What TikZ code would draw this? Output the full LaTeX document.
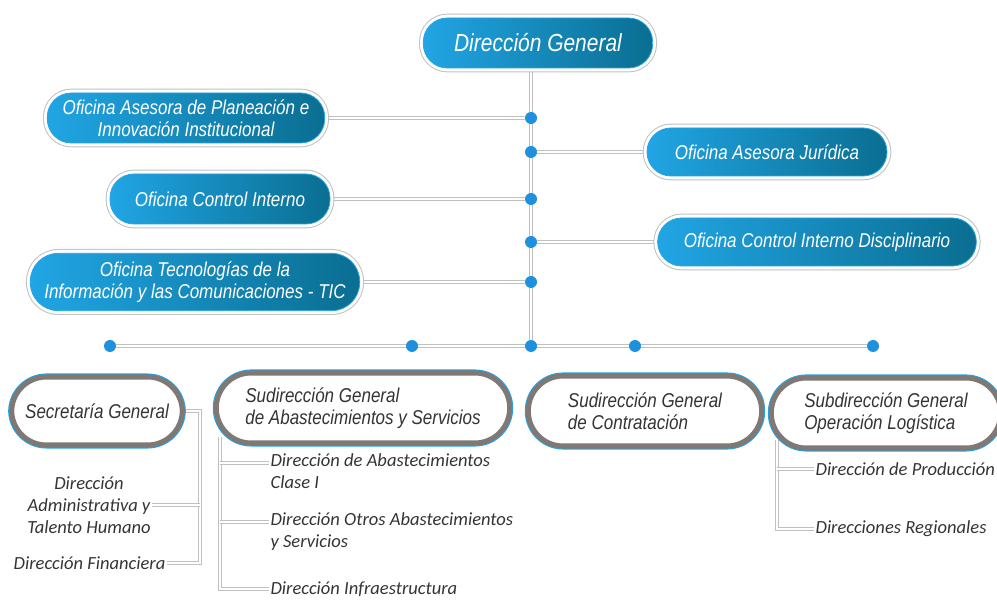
\documentclass[tikz,border=0pt]{standalone}
\usepackage{fontspec}
\setmainfont{Carlito}
\newfontfamily\pillfont[FakeStretch=0.85]{Liberation Sans}
\usetikzlibrary{backgrounds}

\definecolor{pillLight}{RGB}{33,165,228}
\definecolor{pillDark}{RGB}{10,110,145}
\definecolor{dotBlue}{RGB}{30,144,220}
\definecolor{frameGray}{RGB}{128,120,116}
\definecolor{linkGray}{RGB}{192,192,192}
\definecolor{textGray}{RGB}{52,52,52}

\tikzset{
    pillBlue/.style = { shape=rectangle, rounded corners=18pt, left color=pillLight, right color=pillDark, draw=pillLight, line width=0.6pt,
        preaction={draw=linkGray, line width=6.5pt}, preaction={draw=white, line width=5pt},
        text=white, align=center, inner sep=2pt, font=\pillfont\itshape\fontsize{15}{16.5}\selectfont },
    pillWhite/.style = { shape=rectangle, rounded corners=26pt, fill=white, draw=frameGray, line width=3.8pt,
        preaction={draw=pillLight, line width=5.3pt},
        text=textGray, align=left, inner sep=2pt, minimum width=220pt, minimum height=52.5pt, font=\pillfont\itshape\fontsize{15}{16.5}\selectfont },
    dotNode/.style = { shape=circle, fill=dotBlue, inner sep=0pt, minimum size=9pt },
    link/.style = { draw=linkGray, line width=0.8pt, double=white, double distance=1.4pt },
    subLabel/.style = { text=textGray, inner sep=1pt, font=\itshape\fontsize{13.9}{16.5}\selectfont }
}

\begin{document}
\begin{tikzpicture}[x=0.75pt, y=-0.75pt]
    \useasboundingbox (0,0) rectangle (997,602);
    % top
    \node (nDirGeneral) [ pillBlue, minimum width=172pt, minimum height=37.5pt, font=\pillfont\itshape\fontsize{18.5}{20}\selectfont ] at (538,43) {Dirección General};
    % oficinas
    \node (nPlaneacion) [ pillBlue, minimum width=208pt, minimum height=37.5pt ] at (186,118) {Oficina Asesora de Planeación e\\Innovación Institucional};
    \node (nControl) [ pillBlue, minimum width=165pt, minimum height=37.5pt ] at (220,199) {Oficina Control Interno};
    \node (nTic) [ pillBlue, rounded corners=21pt, minimum width=247pt, minimum height=43pt ] at (195,282) {Oficina Tecnologías de la\\Información y las Comunicaciones - TIC};
    \node (nJuridica) [ pillBlue, minimum width=180pt, minimum height=36pt ] at (767,152) {Oficina Asesora Jurídica};
    \node (nDisciplinario) [ pillBlue, minimum width=239pt, minimum height=36pt ] at (817,242) {Oficina Control Interno Disciplinario};
    % bar
    \node (nBar1) [ dotNode ] at (110,346) {};
    \node (nBar2) [ dotNode ] at (412,346) {};
    \node (nBar3) [ dotNode ] at (531,346) {};
    \node (nBar4) [ dotNode ] at (635,346) {};
    \node (nBar5) [ dotNode ] at (873,346) {};
    \node (nDotPlan) [ dotNode ] at (nPlaneacion -| nBar3) {};
    \node (nDotJur) [ dotNode ] at (nJuridica -| nBar3) {};
    \node (nDotCtrl) [ dotNode ] at (nControl -| nBar3) {};
    \node (nDotDisc) [ dotNode ] at (nDisciplinario -| nBar3) {};
    \node (nDotTic) [ dotNode ] at (nTic -| nBar3) {};
    % subdirecciones
    \node (nSecretaria) [ pillWhite, minimum width=128pt, minimum height=51pt ] at (97,411) {Secretaría General};
    \node (nAbast) [ pillWhite ] at (363,408) {Sudirección General\\de Abastecimientos y Servicios};
    \node (nContrat) [ pillWhite, minimum width=175pt ] at (645,411) {Sudirección General\\de Contratación};
    \node (nLogistica) [ pillWhite, minimum width=172pt ] at (886,413) {Subdirección General\\Operación Logística};
    % direcciones
    \node (nAdministrativa) [ subLabel, align=center ] at (89,505) {Dirección\\Administrativa y\\Talento Humano};
    \node (nFinanciera) [ subLabel, anchor=east ] at (167,563) {Dirección Financiera};
    \node (nAbastI) [ subLabel, align=left, anchor=north west ] at (269,452) {Dirección de Abastecimientos\\Clase I};
    \node (nOtros) [ subLabel, align=left, anchor=north west ] at (269,511) {Dirección Otros Abastecimientos\\y Servicios};
    \node (nInfra) [ subLabel, anchor=west ] at (269,589) {Dirección Infraestructura};
    \node (nProduccion) [ subLabel, anchor=west ] at (814,469) {Dirección de Producción};
    \node (nRegionales) [ subLabel, anchor=west ] at (814,529) {Direcciones Regionales};
    \coordinate (cSecBus) at (200,563);
    \coordinate (cAbTop) at (220,437);
    \coordinate (cAbBot) at (220,589);
    \coordinate (cAbastI) at ([yshift=-8pt]nAbastI.north west);
    \coordinate (cOtros) at ([yshift=-8pt]nOtros.north west);
    \coordinate (cLogTop) at (777,440);

    \begin{pgfonlayer}{background}
        \draw [ link ] (nDirGeneral.south -| nBar3) -- (nBar3);
        \draw [ link ] (nBar1) -- (nBar5);
        \draw [ link ] (nPlaneacion) -- (nDotPlan);
        \draw [ link ] (nControl) -- (nDotCtrl);
        \draw [ link ] (nTic) -- (nDotTic);
        \draw [ link ] (nDotJur) -- (nJuridica);
        \draw [ link ] (nDotDisc) -- (nDisciplinario);
        \draw [ link ] (nSecretaria.east) -| (cSecBus) -- (nFinanciera.east);
        \draw [ link ] (nAdministrativa.east) -- (nAdministrativa.east -| cSecBus);
        \draw [ link ] (cAbTop) -- (cAbBot) -- (nInfra.west);
        \draw [ link ] (cAbastI -| cAbTop) -- (cAbastI);
        \draw [ link ] (cOtros -| cAbTop) -- (cOtros);
        \draw [ link ] (cLogTop) |- (nRegionales.west);
        \draw [ link ] (nProduccion.west -| cLogTop) -- (nProduccion.west);
    \end{pgfonlayer}
\end{tikzpicture}
\end{document}
